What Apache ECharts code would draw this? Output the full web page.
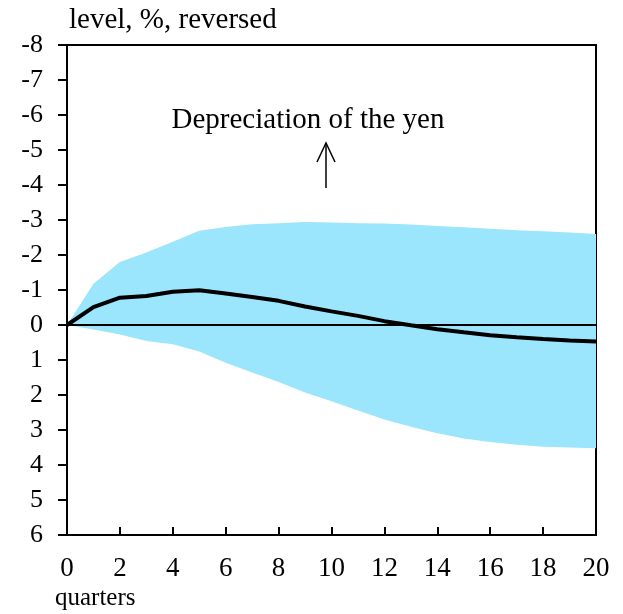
<!DOCTYPE html>
<html>
<head>
  <meta charset="utf-8">
  <title>Yen response</title>
  <script src="https://cdn.jsdelivr.net/npm/echarts@6/dist/echarts.min.js"></script>
  <style>
    html, body { margin: 0; padding: 0; background: #fff; }
    #chart { width: 623px; height: 614px; }
  </style>
</head>
<body>
<div id="chart"></div>
<script>
  // quarters 0..20
  var quarters = [0, 1, 2, 3, 4, 5, 6, 7, 8, 9, 10, 11, 12, 13, 14, 15, 16, 17, 18, 19, 20];
  // point estimate (level, %)
  var central = [0, -0.51, -0.78, -0.83, -0.95, -0.99, -0.9, -0.8, -0.69, -0.53, -0.39,
                 -0.26, -0.11, 0.01, 0.12, 0.21, 0.29, 0.35, 0.4, 0.44, 0.47];
  // band edges
  var bandTop = [0, -1.18, -1.8, -2.07, -2.38, -2.69, -2.8, -2.88, -2.91, -2.94, -2.93,
                 -2.91, -2.9, -2.87, -2.83, -2.79, -2.75, -2.71, -2.68, -2.64, -2.6];
  var bandBottom = [0, 0.13, 0.27, 0.46, 0.55, 0.76, 1.08, 1.36, 1.63, 1.93, 2.18,
                    2.44, 2.7, 2.91, 3.09, 3.24, 3.34, 3.42, 3.48, 3.5, 3.52];

  var font = '"Liberation Serif", "Times New Roman", serif';

  var chart = echarts.init(document.getElementById('chart'));

  // band drawn as one polygon: top edge forward, bottom edge back
  function renderBand(params, api) {
    var pts = [];
    quarters.forEach(function (q, i) { pts.push(api.coord([q, bandTop[i]])); });
    for (var i = quarters.length - 1; i >= 0; i--) {
      pts.push(api.coord([quarters[i], bandBottom[i]]));
    }
    return {
      type: 'polygon',
      shape: { points: pts },
      style: { fill: '#9be5fd', stroke: null }
    };
  }

  chart.setOption({
    animation: false,
    grid: {
      left: 67, top: 45, right: 27, bottom: 79,
      show: true, borderColor: '#000', borderWidth: 2, backgroundColor: 'transparent'
    },
    xAxis: {
      type: 'value', min: 0, max: 20, interval: 2,
      axisLine: { show: true, onZero: false, lineStyle: { color: '#000', width: 2 } },
      axisTick: { show: true, inside: true, length: 8, lineStyle: { color: '#000', width: 2 } },
      axisLabel: { color: '#000', fontFamily: font, fontSize: 27, margin: 20 },
      splitLine: { show: false }
    },
    yAxis: {
      type: 'value', inverse: true, min: -8, max: 6, interval: 1,
      axisLine: { show: true, lineStyle: { color: '#000', width: 2 } },
      axisTick: { show: true, inside: false, length: 9, lineStyle: { color: '#000', width: 2 } },
      axisLabel: { color: '#000', fontFamily: font, fontSize: 26, margin: 24 },
      splitLine: { show: false }
    },
    series: [
      {
        type: 'custom', renderItem: renderBand, data: [[0, 0]],
        silent: true, z: 1, clip: true
      },
      {
        type: 'line', data: quarters.map(function (q, i) { return [q, central[i]]; }),
        symbol: 'none', smooth: false,
        lineStyle: { color: '#000', width: 4 }, z: 5,
        markLine: {
          silent: true, symbol: 'none', label: { show: false },
          lineStyle: { color: '#000', width: 2, type: 'solid' },
          data: [{ yAxis: 0 }]
        }
      }
    ],
    graphic: [
      { type: 'text', left: 69, top: 6,
        style: { text: 'level, %, reversed', font: '29px ' + font, fill: '#000' } },
      { type: 'text', left: 55, top: 586,
        style: { text: 'quarters', font: '25px ' + font, fill: '#000' } },
      { type: 'text', x: 308, y: 120,
        style: { text: 'Depreciation of the yen', font: '29px ' + font, fill: '#000',
                 align: 'center', verticalAlign: 'middle' } },
      { type: 'line', shape: { x1: 326, y1: 188, x2: 326, y2: 143 },
        style: { stroke: '#000', lineWidth: 1.5 } },
      { type: 'polyline', shape: { points: [[317, 162], [326, 143], [335, 162]] },
        style: { stroke: '#000', lineWidth: 1.5, fill: null } }
    ]
  });
</script>
</body>
</html>
